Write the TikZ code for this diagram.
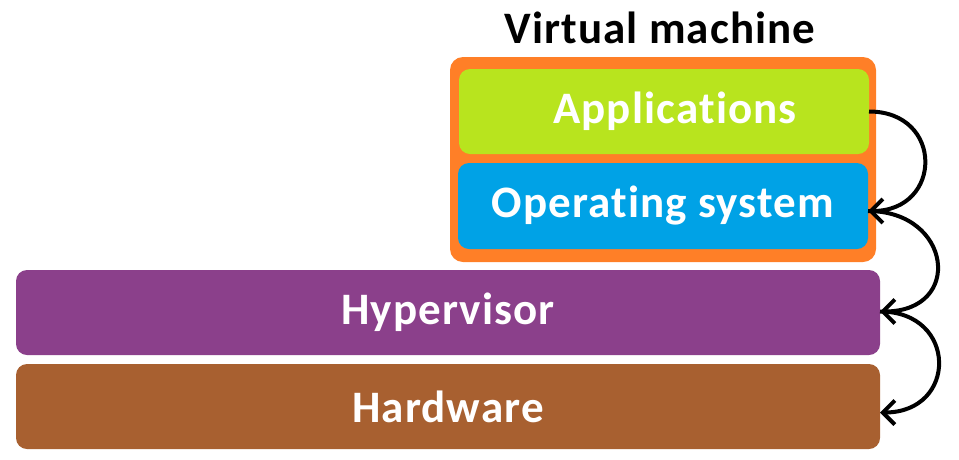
\documentclass[tikz,border=0pt]{standalone}
\usepackage{fontspec}
\setmainfont[Ligatures=CommonOff,LetterSpace=2.5]{Carlito}
\usetikzlibrary{arrows.meta}
\definecolor{cgreen}{RGB}{184,228,30}
\definecolor{cblue}{RGB}{0,162,230}
\definecolor{corange}{RGB}{255,127,39}
\definecolor{cpurple}{RGB}{139,64,139}
\definecolor{cbrown}{RGB}{168,96,48}
\begin{document}
\begin{tikzpicture}[x=1pt,y=-1pt,
  layer/.style={rounded corners=11pt, inner sep=0pt, outer sep=0pt, text=white,
    font=\fontsize{45}{50}\selectfont\bfseries},
  link/.style={line width=4pt, -{Straight Barb[length=12pt,width=24pt]}}]
\useasboundingbox (0,0) rectangle (959,459);
\node[layer, fill=corange, minimum width=426pt, minimum height=205pt, rounded corners=13pt] (vm) at (663,159.5) {};
\node[layer, fill=cgreen, minimum width=410pt, minimum height=85pt] (app) at (664,111.5) {\hspace*{22pt}Applications};
\node[layer, fill=cblue, minimum width=410pt, minimum height=86pt] (os) at (663,206) {Operating system};
\node[layer, fill=cpurple, minimum width=864pt, minimum height=85pt] (hyp) at (448,312.5) {Hypervisor};
\node[layer, fill=cbrown, minimum width=864pt, minimum height=85pt] (hw) at (448,406.5) {Hardware};
\node[font=\fontsize{45}{50}\selectfont\bfseries, anchor=base] (title) at (660,43) {Virtual machine};
\coordinate (osin) at ([yshift=-5pt]os.east);
\coordinate (hypin) at ([yshift=1pt]hyp.east);
\coordinate (hwin) at ([yshift=-6pt]hw.east);
\draw[link] (app.east) .. controls +(75,0) and +(75,0) .. (osin);
\draw[link] (osin) .. controls +(84,0) and +(84,0) .. (hypin);
\draw[link] (hypin) .. controls +(78,0) and +(78,0) .. (hwin);
\end{tikzpicture}
\end{document}
